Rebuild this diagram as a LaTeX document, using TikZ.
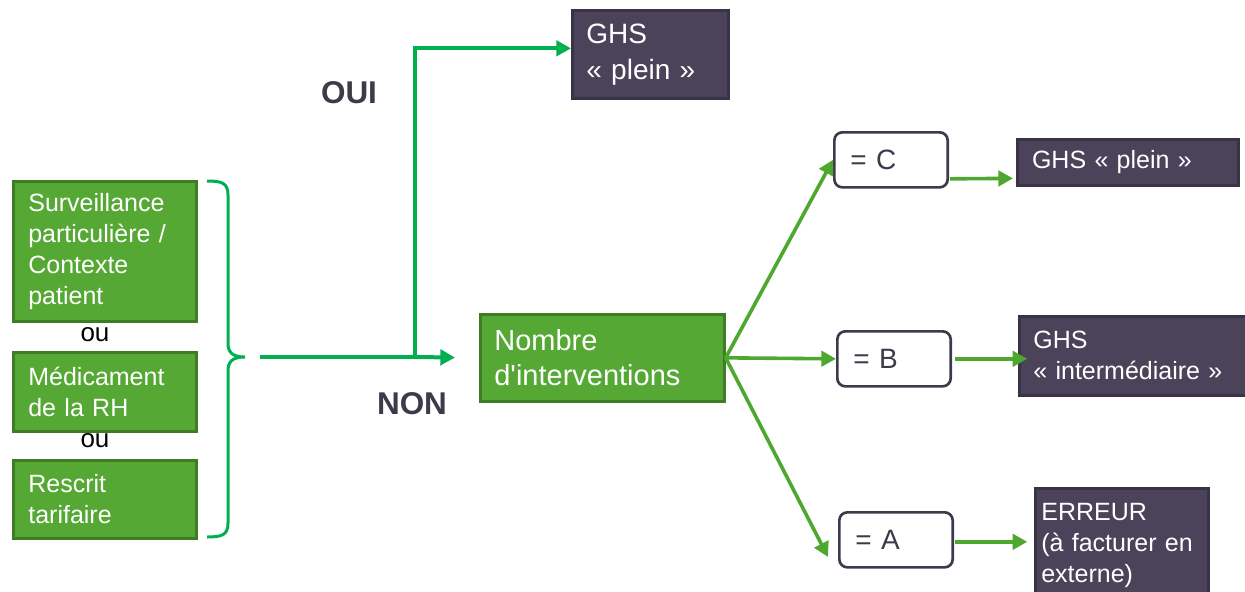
\documentclass[tikz,border=0pt]{standalone}
\usepackage{fontspec}
\setmainfont{Liberation Sans}
\usetikzlibrary{arrows.meta,calc}
\definecolor{gfill}{HTML}{55A834}
\definecolor{gborder}{HTML}{3D7D25}
\definecolor{dfill}{HTML}{4B4359}
\definecolor{dborder}{HTML}{3A3346}
\definecolor{arrowL}{HTML}{00B050}
\definecolor{arrowR}{HTML}{4EA72E}
\definecolor{tdark}{HTML}{3F3A4A}
\newcommand{\straightapos}{\XeTeXglyph\the\XeTeXcharglyph"27\relax}
\begin{document}
\begin{tikzpicture}[x=0.75pt,y=-0.75pt,
  base/.style={anchor=north west, align=left, line width=2pt, inner ysep=2pt},
  gbox/.style={base, draw=gborder, fill=gfill, text=white, inner xsep=11.25pt,
     font=\fontsize{18.75pt}{23.25pt}\selectfont},
  dbox/.style={base, draw=dborder, fill=dfill, text=white, inner xsep=11pt,
     font=\fontsize{18.75pt}{23.25pt}\selectfont},
  eqbox/.style={base, draw=tdark, fill=white, text=tdark, rounded corners=6pt,
     inner xsep=12pt, text width=61pt, minimum height=41.25pt,
     font=\fontsize{21pt}{25pt}\selectfont},
  lbl/.style={text=tdark, font=\bfseries\fontsize{23.6pt}{28pt}\selectfont, inner sep=0pt},
  oulbl/.style={text=black, font=\fontsize{19.5pt}{23pt}\selectfont, inner sep=0pt},
  arrL/.style={draw=arrowL, line width=3pt, -{Triangle[length=11pt,width=11.5pt]}},
  arrR/.style={draw=arrowR, line width=2.7pt, -{Triangle[length=11pt,width=11.5pt]}},
  bracestyle/.style={draw=arrowL, line width=2.25pt}
]
\useasboundingbox (0,0) rectangle (1245,592);
\clip (0,0) rectangle (1245,592);

% left green boxes
\node[gbox, text width=114.75pt, minimum height=105pt] (surv) at (12,180)
  {Surveillance\\particulière /\\Contexte\\patient};
\node[gbox, text width=114.75pt, minimum height=59.25pt] (med) at (12,351)
  {Médicament\\de la RH};
\node[gbox, text width=114.75pt, minimum height=58.5pt] (resc) at (12,459)
  {Rescrit\\tarifaire};
\node[oulbl] (ou1) at (95,335) {ou};
\node[oulbl] (ou2) at (95,441) {ou};

% brace
\coordinate (btip) at (245,357);
\draw[bracestyle] (207,181) .. controls (222,181) and (228,183) .. (228,195)
  -- (228,343) .. controls (228,352) and (232,357) .. (btip)
  .. controls (232,357) and (228,362) .. (228,371)
  -- (228,523) .. controls (228,535) and (222,537) .. (207,537);

% top GHS
\node[dbox, inner xsep=10.5pt, text width=96pt, minimum height=66pt,
      font=\fontsize{21pt}{27pt}\selectfont] (ghs1) at (571,9) {GHS\\« plein »};

% Nombre d'interventions
\node[gbox, inner xsep=10.5pt, text width=162pt, minimum height=65.25pt,
      font=\fontsize{21.75pt}{26.25pt}\selectfont] (nombre) at (479,313)
  {Nombre\\d\straightapos interventions};

\node[lbl] (oui) at (349,92.5) {OUI};
\node[lbl] (non) at (412,404) {NON};

% left connectors
\coordinate (lstart) at (260,357);
\coordinate (junction) at (415,357);
\draw[draw=arrowL, line width=3pt] (lstart) -- (junction);
\draw[arrL, shorten >=18pt] (junction) -- (nombre.west);
\draw[arrL] (junction) |- ([yshift=4.5pt]ghs1.west);

% = boxes
\node[eqbox] (eqc) at (833,131) {= C};
\node[eqbox] (eqb) at (836,330) {= B};
\node[eqbox] (eqa) at (838,511) {= A};

% right dark boxes
\node[dbox, text width=144pt, minimum height=34.5pt] (ghsc) at (1016,138) {GHS « plein »};
\node[dbox, inner xsep=10.5pt, text width=149.25pt, minimum height=59.25pt] (ghsb) at (1018,315)
  {GHS\\« intermédiaire »};
\node[dbox, inner xsep=4.5pt, text width=120.75pt, minimum height=86.25pt] (err) at (1034,487)
  {ERREUR\\(à facturer en\\externe)};

% right connectors
\coordinate (aend) at (828,557);
\draw[arrR] (nombre.east) -- (eqc.west);
\draw[arrR] (nombre.east) -- (eqb.west);
\draw[arrR] (nombre.east) -- (aend);
\draw[arrR] ($(eqc.east)+(1,19)$) -- ($(ghsc.west)+(-3,16)$);
\draw[arrR, shorten <=2pt, shorten >=-7pt] (eqb.east) -- (eqb.east -| ghsb.west);
\draw[arrR, shorten <=1pt, shorten >=5pt] ($(eqa.east)+(0,2)$) -- ($(err.west |- eqa.east)+(0,2)$);
\end{tikzpicture}
\end{document}
